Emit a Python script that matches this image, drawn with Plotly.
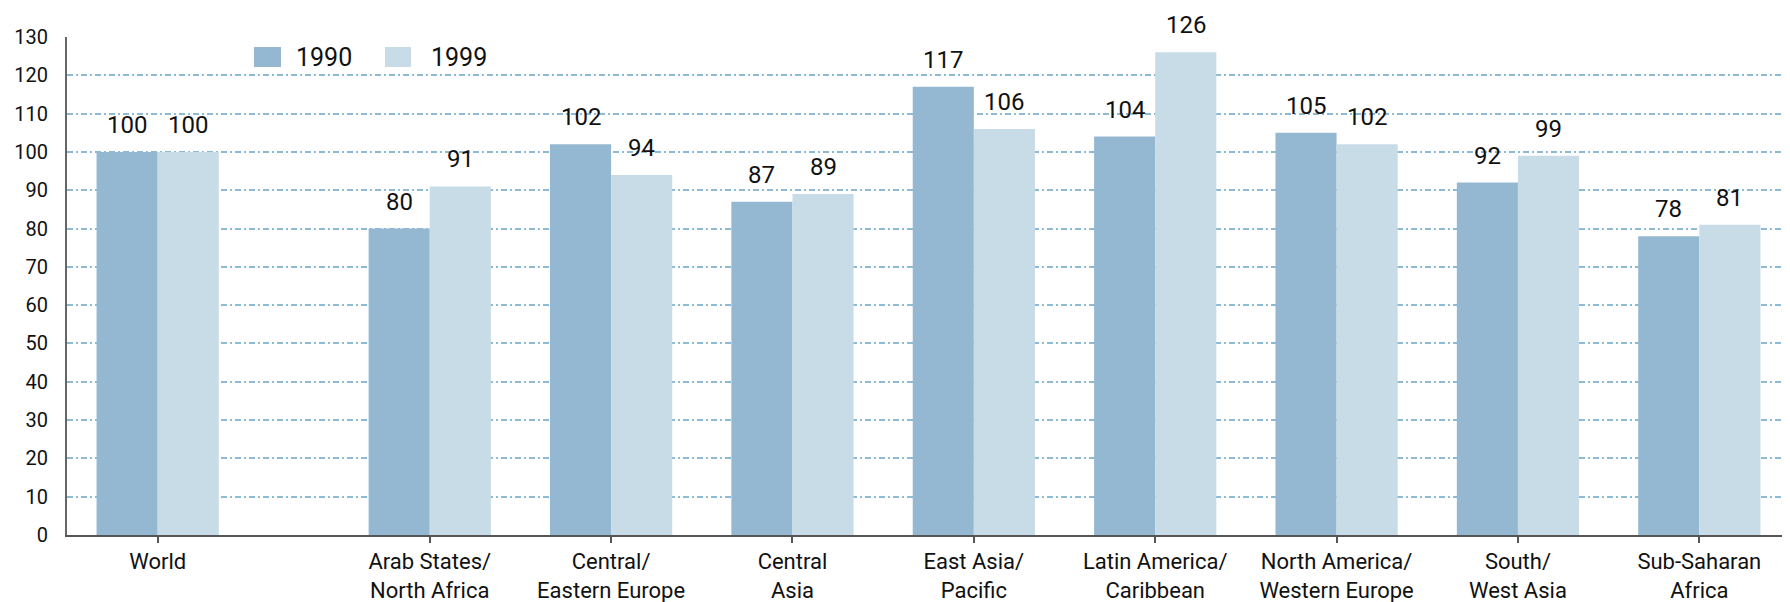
import plotly.graph_objects as go

categories = ["World", "Arab States/<br>North Africa", "Central/<br>Eastern Europe", "Central<br>Asia",
              "East Asia/<br>Pacific", "Latin America/<br>Caribbean", "North America/<br>Western Europe",
              "South/<br>West Asia", "Sub-Saharan<br>Africa"]
values_1990 = [100, 80, 102, 87, 117, 104, 105, 92, 78]
values_1999 = [100, 91, 94, 89, 106, 126, 102, 99, 81]
series_names = ["1990", "1999"]
y_ticks = list(range(0, 131, 10))

# layout: World stands apart from the regions
positions = [0] + [1.5 + i for i in range(len(categories) - 1)]

FONT = "Roboto, Liberation Sans, Arial, sans-serif"
C1990 = "#94b8d2"
C1999 = "#c8dce7"
BW = 0.337

fig = go.Figure()
fig.add_trace(go.Bar(x=positions, y=values_1990, name=series_names[0], marker_color=C1990,
                     marker_line_width=0, width=BW, offset=-BW, showlegend=False))
fig.add_trace(go.Bar(x=positions, y=values_1999, name=series_names[1], marker_color=C1999,
                     marker_line_width=0, width=BW, offset=0, showlegend=False))

ann = []
for p, v in zip(positions, values_1990):
    ann.append(dict(x=p - BW / 2, y=v, text=str(v), showarrow=False, yanchor="middle", yshift=27,
                    font=dict(family=FONT, size=24, color="#111")))
for p, v in zip(positions, values_1999):
    ann.append(dict(x=p + BW / 2, y=v, text=str(v), showarrow=False, yanchor="middle", yshift=27,
                    font=dict(family=FONT, size=24, color="#111")))

# geometry (page has an 8px body margin)
OFF = 8
FW, FH = 1790 - OFF, 602 - OFF
L, T, H = 67 - OFF, 37 - OFF, 498
pw = FW - L
def px(x):
    return (x - OFF - L) / pw
def py(y):
    return 1 - (y - OFF - T) / H

# legend
shapes = [
    dict(type="rect", xref="paper", yref="paper", x0=px(254), x1=px(281), y0=py(67), y1=py(47),
         fillcolor=C1990, line_width=0),
    dict(type="rect", xref="paper", yref="paper", x0=px(385), x1=px(411), y0=py(67), y1=py(47),
         fillcolor=C1999, line_width=0),
]
ann.append(dict(xref="paper", yref="paper", x=px(294), y=py(57), text=series_names[0], showarrow=False,
                xanchor="left", yanchor="middle", font=dict(family=FONT, size=25, color="#111")))
ann.append(dict(xref="paper", yref="paper", x=px(429), y=py(57), text=series_names[1], showarrow=False,
                xanchor="left", yanchor="middle", font=dict(family=FONT, size=25, color="#111")))

fig.update_layout(
    width=FW, height=FH,
    margin=dict(l=L, r=0, t=T, b=FH - T - H),
    paper_bgcolor="white", plot_bgcolor="white",
    barmode="overlay",
    annotations=ann, shapes=shapes,
    font=dict(family=FONT, color="#111"),
)
fig.update_xaxes(range=[-0.5, 9.0], tickmode="array", tickvals=positions, ticktext=categories,
                 ticks="outside", ticklen=6, tickwidth=2, tickcolor="#555",
                 showline=True, linecolor="#555", linewidth=2, showgrid=False, zeroline=False,
                 tickfont=dict(family=FONT, size=22, color="#111"))
fig.update_yaxes(range=[0, 130], tickmode="array", tickvals=y_ticks,
                 showline=True, linecolor="#666", linewidth=2, zeroline=False,
                 showgrid=True, gridcolor="#8dbad4", gridwidth=1.5, griddash="6px,3px,2px,3px",
                 ticks="", ticklabelstandoff=13,
                 tickfont=dict(family=FONT, size=20, color="#111"))

fig.write_html("out.html")
